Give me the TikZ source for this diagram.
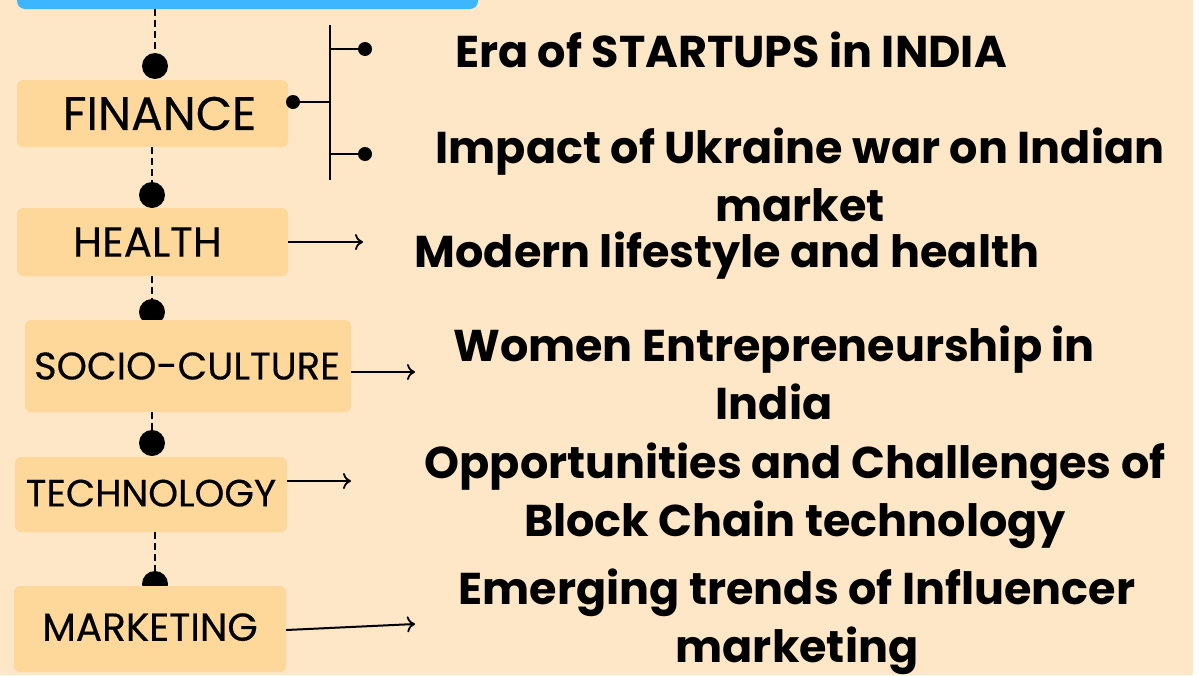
\documentclass[tikz,border=0pt]{standalone}
\usepackage{fontspec}
\setmainfont{Poppins}
\newfontfamily\boxfont[FakeBold=0.4]{Poppins}
\usetikzlibrary{arrows.meta,positioning}
\definecolor{pagebg}{HTML}{FEE7C7}
\definecolor{boxfill}{HTML}{FED89B}
\definecolor{titleblue}{HTML}{3BB6FF}

\begin{document}
\begin{tikzpicture}[x=1pt,y=-1pt,
    topic/.style={fill=boxfill,rounded corners=6pt,inner sep=0pt,text=black},
    bigdot/.style={circle,fill=black,inner sep=0pt,minimum size=26pt},
    smalldot/.style={circle,fill=black,inner sep=0pt,minimum size=14pt},
    link/.style={dash pattern=on 7pt off 4pt,line width=2.2pt},
    branch/.style={line width=2.4pt},
    pointer/.style={-{To[length=8pt,width=16pt,line width=1.8pt]},line width=2pt},
    headline/.style={align=center,font=\fontsize{44.5}{58}\selectfont\bfseries}]
    \useasboundingbox (0,0) rectangle (1204,675);
    \fill[white] (0,0) rectangle (1204,675);
    \fill[pagebg] (0,0) rectangle (1193,675);
    % title box, cut off at the top
    \node[fill=titleblue,rounded corners=8pt,minimum width=461pt,minimum height=60pt] (title) at (247.5,-21) {};
    % dots on the chain
    \node[bigdot] (d_1) at (155,66) {};
    \node[bigdot] (d_2) at (152,195) {};
    \node[bigdot] (d_3) at (152,312) {};
    \node[bigdot] (d_4) at (152,443) {};
    \node[bigdot] (d_5) at (155,584) {};
    % topic boxes
    \node[topic,minimum width=271pt,minimum height=67pt,font=\boxfont\fontsize{47}{50}\selectfont] (finance) at (152.5,113.5) {\hspace*{14pt}\raisebox{-3pt}{FINANCE}};
    \node[topic,minimum width=271pt,minimum height=68pt,font=\boxfont\fontsize{42}{44}\selectfont] (health) at (152.5,242) {\raisebox{-5pt}{HEALTH}\hspace*{10pt}};
    \node[topic,minimum width=326pt,minimum height=92pt,font=\boxfont\fontsize{38.5}{40}\selectfont] (socio) at (188,366) {\raisebox{-2pt}{SOCIO-CULTURE}\hspace*{2pt}};
    \node[topic,minimum width=272pt,minimum height=75pt,font=\boxfont\fontsize{38}{42}\selectfont] (tech) at (151,494.5) {\raisebox{3pt}{TECHNOLOGY}};
    \node[topic,minimum width=272pt,minimum height=86pt,font=\boxfont\fontsize{39}{42}\selectfont] (mkt) at (150,629) {\raisebox{4pt}{MARKETING}};
    % dashed chain
    \draw[link] (title.south -| d_1) -- (d_1.north);
    \draw[link] (finance.south -| d_2) -- (d_2.north);
    \draw[link] (health.south -| d_3) -- (d_3.north);
    \draw[link] (socio.south -| d_4) -- (d_4.north);
    \draw[link] (tech.south -| d_5) -- (d_5.north);
    % finance branch
    \node[smalldot] (f_0) at (293,102) {};
    \coordinate (b_top) at (330,25);
    \coordinate (b_bot) at (330,180);
    \node[smalldot] (f_1) at (365,49) {};
    \node[smalldot] (f_2) at (365,154) {};
    \draw[branch] (b_top) -- (b_bot);
    \draw[branch] (f_0) -- (f_0 -| b_top);
    \draw[branch] (f_1 -| b_top) -- (f_1);
    \draw[branch] (f_2 -| b_top) -- (f_2);
    % headlines
    \node[headline] (era) at (731,50) {Era of STARTUPS in INDIA};
    \node[headline] (ukraine) at (800,175) {Impact of Ukraine war on Indian\\market};
    \node[headline] (modern) at (727,256) {Modern lifestyle and health};
    \node[headline] (women) at (774,373) {Women Entrepreneurship in\\India};
    \node[headline] (block) at (795,496) {Opportunities and Challenges of\\Block Chain technology};
    \node[headline] (influ) at (797,622) {Emerging trends of Influencer\\marketing};
    % arrows
    \coordinate (a_1) at (363,242);
    \coordinate (a_2) at (415,372);
    \coordinate (a_3) at (351,481);
    \coordinate (a_4) at (415,624);
    \draw[pointer] (health.east |- a_1) -- (a_1);
    \draw[pointer] (socio.east |- a_2) -- (a_2);
    \draw[pointer] (tech.east |- a_3) -- (a_3);
    \draw[pointer] (mkt.east) ++(0,1) -- (a_4);
\end{tikzpicture}
\end{document}
